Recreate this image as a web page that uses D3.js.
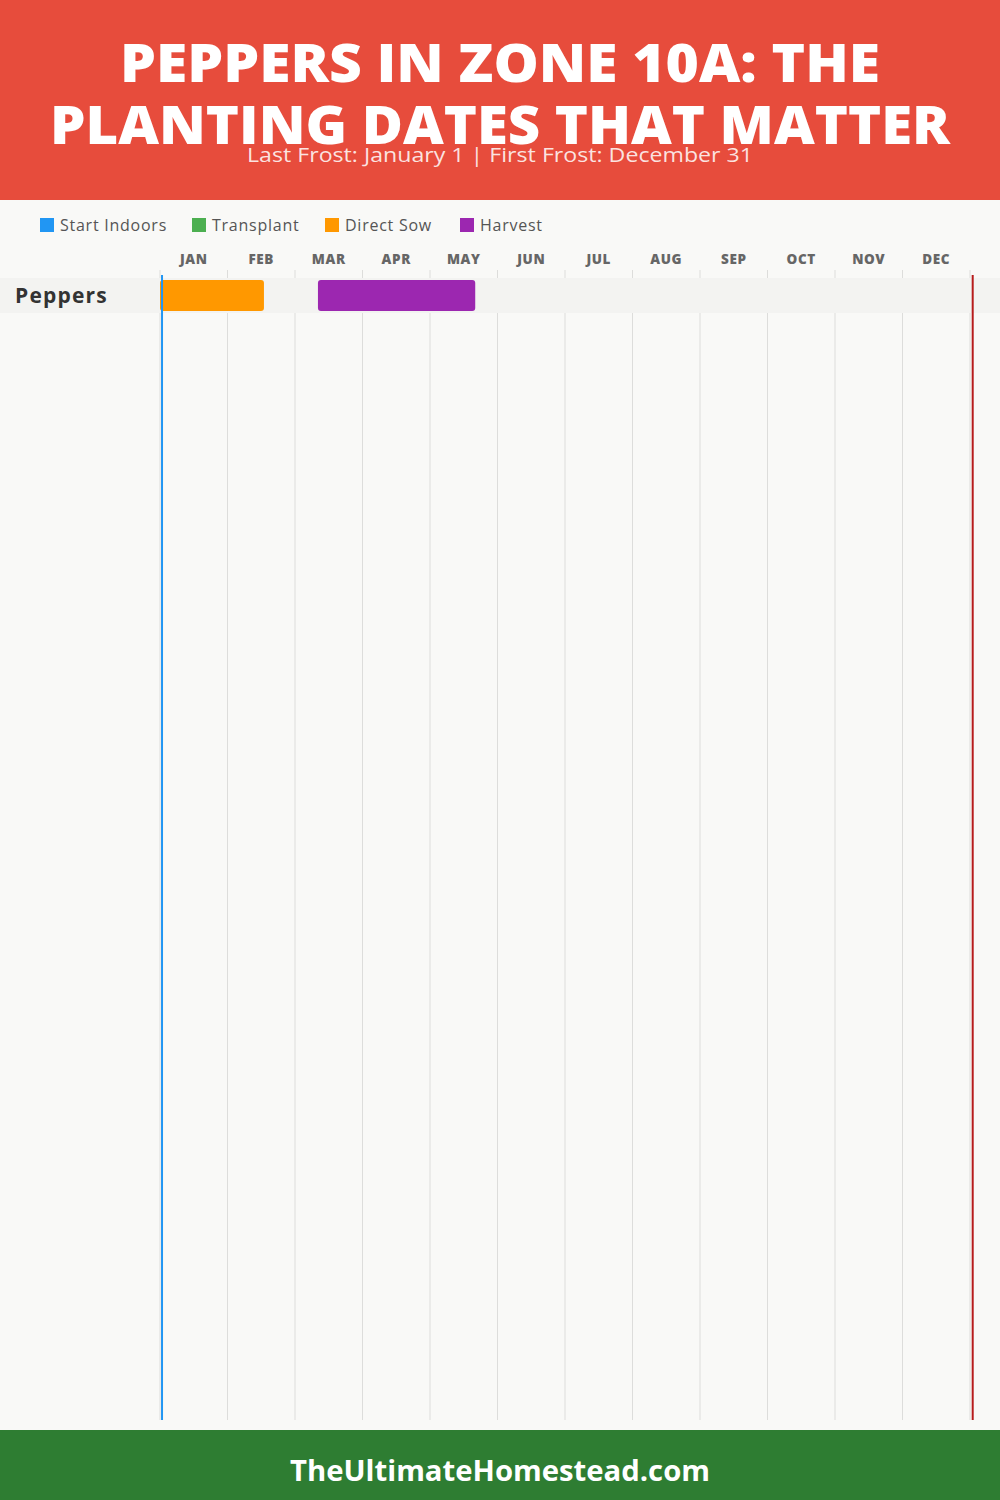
<!DOCTYPE html>
<html>
<head>
<meta charset="utf-8">
<script src="https://cdn.jsdelivr.net/npm/d3@7"></script>
<style>
  html, body { margin: 0; padding: 0; background: #F9F9F7; }
  svg { display: block; }
</style>
</head>
<body>
<script>
// ---- data ----
const titleLines = ["PEPPERS IN ZONE 10A: THE", "PLANTING DATES THAT MATTER"];
const subtitle = "Last Frost: January 1 | First Frost: December 31";
const footerText = "TheUltimateHomestead.com";
const months = ["JAN","FEB","MAR","APR","MAY","JUN","JUL","AUG","SEP","OCT","NOV","DEC"];
const crops = ["Peppers"];
const legendNames = ["Start Indoors", "Transplant", "Direct Sow", "Harvest"];
const legendColors = ["#2196F3", "#4CAF50", "#FF9800", "#9C27B0"];
// periods in month units (0 = Jan 1, 12 = end of Dec)
const startIndoors = [];
const transplant = [];
const directSow = [{crop: "Peppers", start: 0.0, end: 1.54}];
const harvest = [{crop: "Peppers", start: 2.34, end: 4.67}];
// frost markers (month units)
const lastFrost = 0.03;
const firstFrost = 12.04;

const W = 1000, H = 1500;
const svg = d3.select("body").append("svg").attr("width", W).attr("height", H);

svg.append("rect").attr("width", W).attr("height", H).attr("fill", "#F9F9F7");

// header
svg.append("rect").attr("x", 0).attr("y", 0).attr("width", W).attr("height", 200).attr("fill", "#E74C3C");
const titleWidths = [760, 900];
titleLines.forEach((t, i) => {
  svg.append("text")
    .attr("x", W / 2).attr("y", 82 + i * 62)
    .attr("text-anchor", "middle")
    .attr("font-family", "'Open Sans', sans-serif")
    .attr("font-weight", 800)
    .attr("font-size", 53)
    .attr("fill", "#fff")
    .attr("textLength", titleWidths[i])
    .attr("lengthAdjust", "spacingAndGlyphs")
    .text(t);
});
svg.append("text")
  .attr("x", W / 2).attr("y", 162)
  .attr("text-anchor", "middle")
  .attr("font-family", "'Open Sans', sans-serif")
  .attr("font-size", 20)
  .attr("fill", "rgba(255,255,255,0.85)")
  .attr("textLength", 506)
  .attr("lengthAdjust", "spacingAndGlyphs")
  .text(subtitle);

// legend
const legendX = [40, 192, 325, 460];
const lg = svg.append("g");
legendNames.forEach((n, i) => {
  lg.append("rect").attr("x", legendX[i]).attr("y", 218).attr("width", 14).attr("height", 14).attr("fill", legendColors[i]);
  lg.append("text").attr("x", legendX[i] + 20).attr("y", 231)
    .attr("font-family", "'Open Sans', sans-serif").attr("font-size", 16).attr("fill", "#555")
    .attr("letter-spacing", 0.75)
    .text(n);
});

// scales
const x = d3.scaleLinear().domain([0, 12]).range([160, 970]);
const rowTop = 278, rowH = 35, chartBottom = 1420;
const y = d3.scaleBand().domain(crops).range([rowTop, rowTop + rowH * crops.length]);

// month labels
svg.append("g").selectAll("text").data(months).join("text")
  .attr("x", (d, i) => x(i + 0.5)).attr("y", 264)
  .attr("text-anchor", "middle")
  .attr("font-family", "'Open Sans', sans-serif").attr("font-weight", 800)
  .attr("font-size", 13.5).attr("fill", "#666")
  .attr("letter-spacing", 0.6)
  .text(d => d);

// grid lines
svg.append("g").selectAll("line").data(d3.range(13)).join("line")
  .attr("x1", d => x(d)).attr("x2", d => x(d))
  .attr("y1", 270).attr("y2", chartBottom)
  .attr("stroke", "#DDDDDB").attr("stroke-width", 1);

// row bands
svg.append("g").selectAll("rect").data(crops).join("rect")
  .attr("x", 0).attr("y", d => y(d)).attr("width", W).attr("height", y.bandwidth())
  .attr("fill", "#F3F3F1");

// crop labels
svg.append("g").selectAll("text").data(crops).join("text")
  .attr("x", 15).attr("y", d => y(d) + y.bandwidth() / 2 + 7)
  .attr("font-family", "'Open Sans', sans-serif").attr("font-weight", 700)
  .attr("font-size", 21).attr("fill", "#333")
  .attr("letter-spacing", 1.2)
  .text(d => d);

// bars
const series = [
  {data: startIndoors, color: legendColors[0]},
  {data: transplant, color: legendColors[1]},
  {data: directSow, color: legendColors[2]},
  {data: harvest, color: legendColors[3]}
];
series.forEach(s => {
  svg.append("g").selectAll("rect").data(s.data).join("rect")
    .attr("x", d => x(d.start)).attr("width", d => x(d.end) - x(d.start))
    .attr("y", d => y(d.crop) + 2).attr("height", y.bandwidth() - 4)
    .attr("rx", 3).attr("fill", s.color);
});

// frost lines
svg.append("line").attr("x1", x(lastFrost)).attr("x2", x(lastFrost))
  .attr("y1", 275).attr("y2", chartBottom).attr("stroke", "#2196F3").attr("stroke-width", 2);
svg.append("line").attr("x1", x(firstFrost)).attr("x2", x(firstFrost))
  .attr("y1", 275).attr("y2", chartBottom).attr("stroke", "#B71C1C").attr("stroke-width", 2);

// footer
svg.append("rect").attr("x", 0).attr("y", 1430).attr("width", W).attr("height", 70).attr("fill", "#2E7D32");
svg.append("text").attr("x", W / 2).attr("y", 1481)
  .attr("text-anchor", "middle")
  .attr("font-family", "'Open Sans', sans-serif").attr("font-weight", 700)
  .attr("font-size", 28).attr("fill", "#fff")
  .attr("textLength", 420).attr("lengthAdjust", "spacingAndGlyphs")
  .text(footerText);
</script>
</body>
</html>
